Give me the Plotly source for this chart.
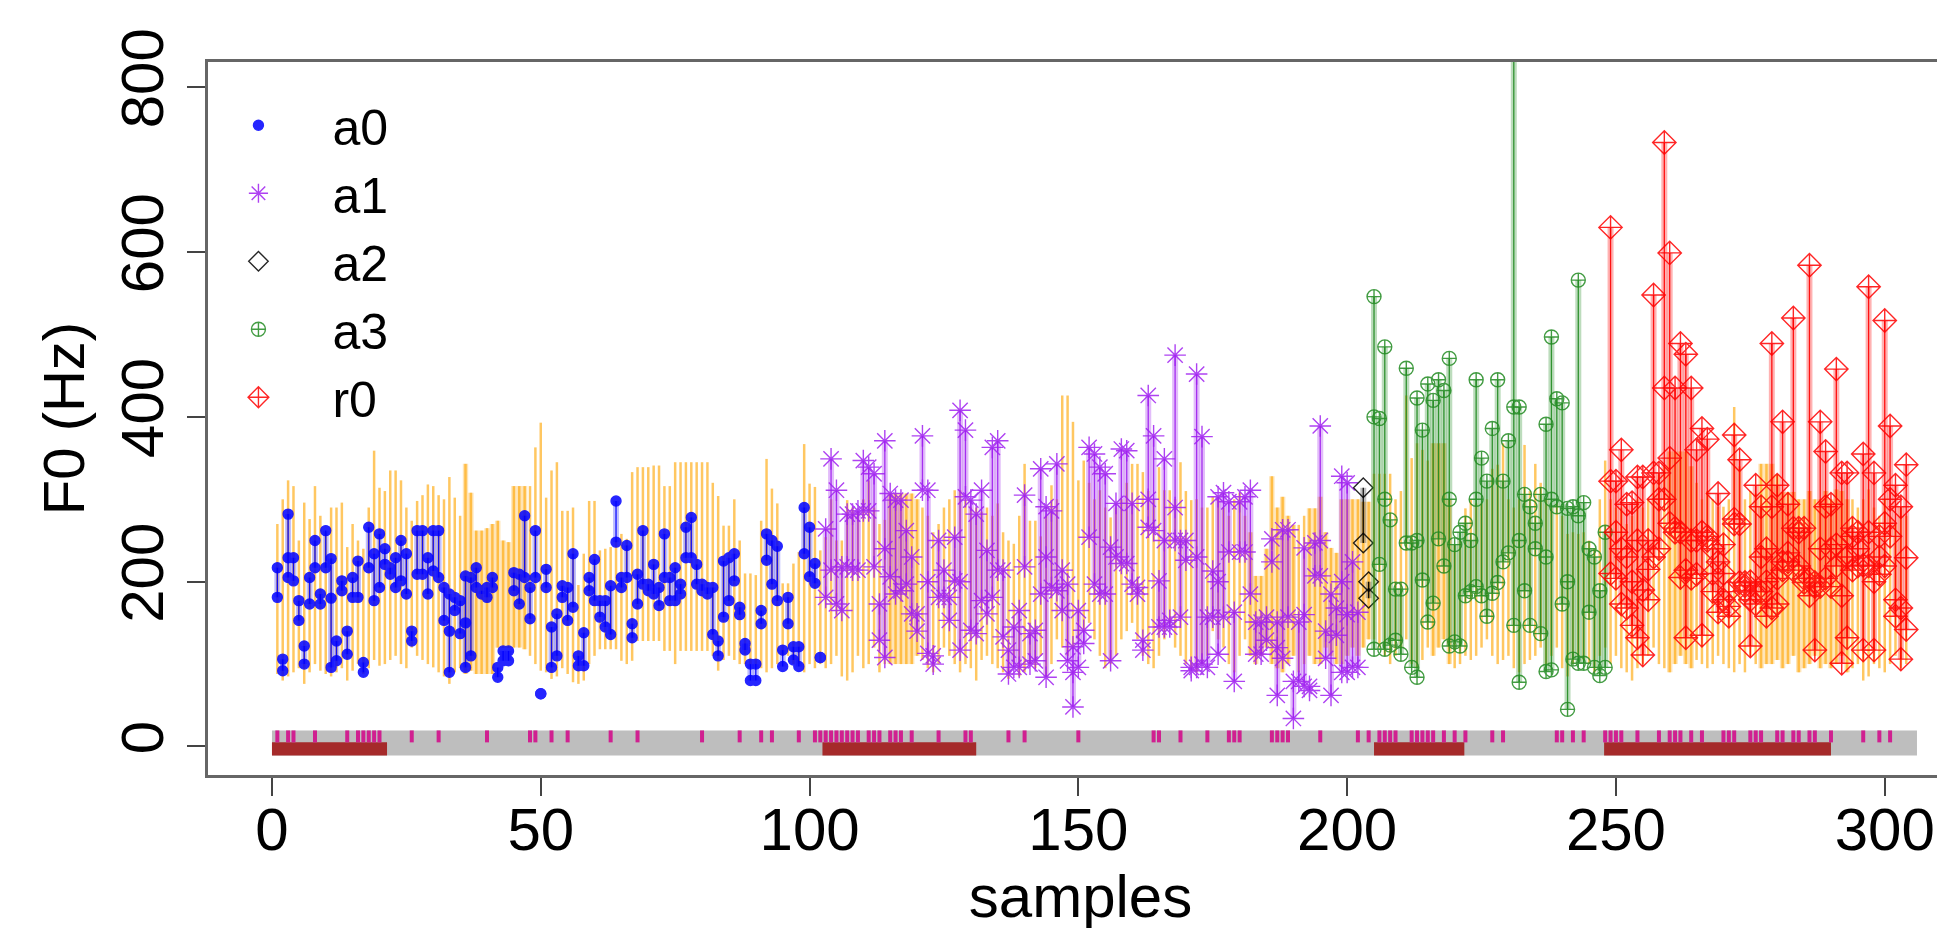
import plotly.graph_objects as go

# ---------------- data ----------------
class_names = ["a0", "a1", "a2", "a3", "r0"]
class_first = [1, 103, 203, 205, 249]
class_last = [102, 202, 204, 248, 304]

f0_top = [
    217,106,282,229,177,122,205,250,185,262,
    228,128,201,140,205,225,102,266,234,258,
    240,217,229,250,234,140,262,262,229,262,
    262,193,185,181,177,207,205,217,189,193,
    205,96,116,116,211,209,280,193,262,64,
    215,145,161,195,193,234,110,138,205,227,
    177,177,195,298,205,244,149,209,262,197,
    221,193,258,205,217,197,266,278,221,197,
    193,193,128,225,229,234,169,125,100,100,
    165,258,250,243,117,181,121,121,290,266,
    222,108,
    264,349,311,218,282,282,286,347,339,331,
    173,371,307,299,299,262,230,161,377,311,
    110,250,214,181,254,408,384,299,282,311,
    238,363,371,214,117,145,165,305,137,141,
    337,291,286,343,214,197,121,165,141,363,
    355,339,331,242,295,361,359,295,193,129,
    426,377,201,349,153,475,250,250,96,452,
    376,157,213,303,308,297,163,297,303,311,
    151,151,157,252,151,263,263,79,151,241,
    73,247,389,140,185,168,328,320,224,163,
    314,200,
    546,398,485,275,191,191,459,247,423,384,
    440,420,445,432,471,245,260,271,250,445,
    350,322,386,445,322,371,1150,412,306,291,
    271,306,391,497,422,417,289,291,566,296,
    240,230,189,260,
    630,322,360,294,296,327,327,250,548,332,
    733,599,435,489,476,435,360,386,373,240,
    307,245,188,378,348,199,200,317,291,240,
    489,317,394,294,520,260,265,584,199,394,
    358,294,458,332,332,265,260,355,558,332,
    255,517,389,317,291,342,
]

f0_bot = [
    181,92,205,201,153,100,173,217,173,217,
    96,104,189,112,181,181,90,217,177,193,
    221,209,193,201,185,128,209,209,185,213,
    205,153,90,165,137,96,110,193,185,181,
    193,84,104,104,189,173,205,155,205,64,
    193,96,110,181,153,169,98,98,189,177,
    157,145,136,248,193,205,132,173,197,189,
    185,171,205,177,177,185,229,229,197,189,
    185,136,110,157,177,201,160,117,80,80,
    149,226,197,177,97,149,105,97,234,206,
    198,108,
    181,214,173,165,218,214,214,286,286,218,
    129,108,206,185,189,197,161,140,311,113,
    100,181,181,153,201,117,303,141,137,177,
    161,181,214,133,88,96,96,218,100,104,
    185,84,193,189,165,104,48,96,125,254,
    197,185,185,104,230,222,222,197,185,117,
    266,262,145,145,145,250,157,226,92,96,
    100,96,157,112,157,236,79,236,236,185,
    112,112,129,224,62,107,157,34,79,73,
    68,207,207,107,62,135,90,90,96,96,
    247,180,
    118,221,118,123,129,112,247,96,84,202,
    151,174,252,219,122,127,122,183,188,194,
    183,158,186,199,224,235,147,78,189,147,
    240,137,91,93,291,173,45,106,101,101,
    163,96,86,96,
    322,204,173,168,147,132,111,178,332,240,
    435,271,260,205,132,204,250,135,250,188,
    163,178,158,270,270,189,122,173,188,158,
    291,173,214,224,265,219,204,204,117,194,
    291,240,245,101,132,214,219,117,219,117,
    209,219,255,158,106,142,
]

mid_samples = [3, 11, 33, 36,
               114, 122, 128, 144, 149, 163, 166, 168, 172, 176, 187, 192, 195, 199, 200,
               205, 207, 213, 219, 224, 231, 232, 237, 238, 241, 243,
               249, 250, 251, 252, 253, 254, 255, 256, 257, 258, 259, 260, 261, 262, 263,
               264, 265, 266, 267, 268, 269, 270, 271, 272, 273, 274, 275, 276, 277, 278,
               279, 280, 281, 282, 283, 284, 285, 286, 287, 288, 289, 290, 291, 292, 293,
               294, 295, 296, 297, 298, 299, 300, 301, 302, 303, 304]
mid_values = [229, 180, 140, 150,
              240, 200, 200, 230, 90, 300, 250, 290, 230, 200, 120, 160, 250, 200, 160,
              400, 300, 250, 300, 300, 412, 250, 230, 300, 200, 280,
              210, 260, 240, 230, 200, 250, 190, 215, 230, 300, 300, 350, 265, 260, 214,
              250, 209, 260, 255, 210, 224, 210, 170, 276, 199, 195, 178, 188, 230, 200,
              168, 204, 224, 235, 214, 265, 199, 183, 194, 240, 204, 194, 219, 183, 230,
              255, 240, 220, 260, 200, 230, 271, 300, 178, 168, 229]

orange_hi = [
    270,300,323,316,250,296,276,316,280,260,
    290,290,296,242,270,250,240,290,359,314,
    310,335,335,323,290,274,298,305,318,316,
    305,300,327,302,280,343,308,262,262,265,
    270,274,250,248,316,316,316,316,363,393,
    302,335,345,286,286,290,196,234,298,298,
    238,240,242,250,258,252,333,339,339,339,
    341,341,316,316,345,345,345,345,345,345,
    345,320,304,268,268,300,250,210,210,208,
    274,349,313,295,198,198,222,236,367,319,
    315,238,
    254,300,250,250,299,290,285,300,323,290,
    270,275,307,307,307,307,307,300,290,280,
    260,270,290,300,311,311,300,290,290,285,
    290,280,295,260,250,246,280,343,274,274,
    255,280,317,300,426,426,394,323,347,320,
    300,311,290,278,290,300,320,343,343,333,
    310,300,339,311,311,300,345,310,299,300,
    290,290,303,300,290,280,300,308,280,260,
    207,207,240,328,290,303,280,269,269,280,
    289,289,303,260,241,235,300,300,300,300,
    297,297,
    331,331,331,331,300,310,426,350,368,360,
    347,368,368,368,300,245,250,289,300,295,
    295,300,337,342,368,300,290,300,366,310,
    343,320,300,290,295,280,258,260,258,260,
    250,240,300,347,
    300,290,290,270,280,300,290,300,320,330,
    340,358,358,358,358,340,320,300,310,300,
    291,291,300,412,340,300,310,307,343,343,
    343,330,309,309,309,300,300,310,300,300,
    310,300,312,310,300,300,290,300,312,290,
    280,300,280,270,290,280,
]

orange_lo = [
    88,80,85,90,95,76,90,100,92,88,
    85,90,95,80,92,100,88,95,105,98,
    100,105,110,100,95,120,110,105,100,96,
    90,85,76,90,95,88,92,88,88,88,
    88,120,120,120,120,120,118,110,100,92,
    90,82,85,95,88,78,76,80,100,110,
    118,118,118,118,104,100,104,128,128,128,
    128,128,116,116,100,116,116,116,116,116,
    116,110,92,105,110,105,100,100,100,100,
    95,90,95,100,110,110,100,100,90,100,
    95,100,
    95,100,110,85,80,90,110,95,100,120,
    90,100,100,100,100,100,100,110,105,95,
    90,100,120,110,100,90,100,95,80,105,
    110,100,95,90,82,100,85,90,100,95,
    110,85,100,130,120,110,120,130,140,150,
    130,110,95,100,110,130,140,150,130,110,
    100,95,110,130,150,120,110,100,95,90,
    100,110,140,130,120,100,90,110,130,110,
    100,110,120,100,95,90,100,110,90,100,
    110,100,100,120,110,100,100,110,120,110,
    120,130,
    130,120,110,100,110,120,130,100,95,105,
    120,110,120,130,100,95,100,110,105,110,
    120,130,110,100,105,110,95,90,100,105,
    110,120,100,110,120,95,85,100,110,105,
    100,90,110,120,
    100,110,95,90,80,95,100,110,120,100,
    95,90,100,110,100,95,105,100,95,100,
    110,100,95,90,100,90,110,100,95,100,
    100,105,95,100,110,90,95,100,110,95,
    100,95,100,110,90,95,100,80,85,100,
    95,90,100,110,95,100,
]

shade_first = [36, 115, 182, 193, 216, 260, 277]
shade_last = [47, 120, 190, 204, 219, 264, 293]

tick_samples = [1,3,4,8,14,16,17,18,19,20,26,31,40,48,49,52,55,63,68,80,87,91,93,98,
                101,102,103,104,105,106,107,108,109,111,112,113,115,116,117,119,124,129,
                130,137,140,150,164,165,169,174,178,179,180,186,187,188,189,195,202,204,
                206,207,208,209,212,213,214,215,216,218,220,222,227,229,239,240,242,244,
                248,249,250,251,254,258,260,261,262,264,266,270,271,272,275,276,277,280,
                281,283,284,286,287,290,296,299,301]

segment_start = [0, 102.4, 205, 247.8]
segment_end = [21.4, 131, 221.8, 290]
strip_start, strip_end = 0, 306
strip_low, strip_split, strip_high = -11, 5, 19.5

x_ticks = [0, 50, 100, 150, 200, 250, 300]
y_ticks = [0, 200, 400, 600, 800]

# ---------------- styles ----------------
class_color = {"a0": "#0000FF", "a1": "#A020F0", "a2": "#000000", "a3": "#228B22", "r0": "#FF0000"}
class_band = {"a0": "rgba(0,0,255,0.25)", "a1": "rgba(160,32,240,0.30)", "a2": "rgba(0,0,0,0.25)",
              "a3": "rgba(34,139,34,0.30)", "r0": "rgba(255,0,0,0.30)"}
class_symbol = {"a0": "circle", "a1": "asterisk-open", "a2": "diamond-open",
                "a3": "circle-cross-open", "r0": "diamond-cross-open"}
class_size = {"a0": 10, "a1": 18, "a2": 15, "a3": 14, "r0": 18}

FONT = "Liberation Sans, Arial, Helvetica, sans-serif"

n = len(f0_top)
assert len(f0_bot) == n and len(orange_hi) == n and len(orange_lo) == n
assert len(mid_samples) == len(mid_values)
samples = list(range(1, n + 1))
mid_lookup = dict(zip(mid_samples, mid_values))

fig = go.Figure()

# bottom strip (grey band, brown segments)
fig.add_shape(type="rect", xref="x", yref="y", x0=strip_start, x1=strip_end,
              y0=strip_low, y1=strip_high, fillcolor="#BEBEBE", line_width=0, layer="below")
for a, b in zip(segment_start, segment_end):
    fig.add_shape(type="rect", xref="x", yref="y", x0=a, x1=b, y0=strip_low, y1=strip_split,
                  fillcolor="#A52A2A", line_width=0, layer="below")

# magenta ticks
tx, ty = [], []
for s in tick_samples:
    tx += [s, s, None]
    ty += [strip_split, strip_high, None]
fig.add_trace(go.Scatter(x=tx, y=ty, mode="lines", line=dict(color="#D02090", width=4),
                         showlegend=False, hoverinfo="skip"))

# shaded orange blocks
sx, sb, sh = [], [], []
for a, b in zip(shade_first, shade_last):
    for s in range(a, b + 1):
        sx.append(s)
        sb.append(orange_lo[s - 1])
        sh.append(orange_hi[s - 1] - orange_lo[s - 1])
fig.add_trace(go.Bar(x=sx, y=sh, base=sb, width=1.0,
                     marker=dict(color="rgba(255,185,60,0.38)", line_width=0),
                     showlegend=False, hoverinfo="skip"))

# orange range lines
ox, oy = [], []
for s in samples:
    ox += [s, s, None]
    oy += [orange_lo[s - 1], orange_hi[s - 1], None]
fig.add_trace(go.Scatter(x=ox, y=oy, mode="lines", line=dict(color="rgba(255,165,0,0.62)", width=2.5),
                         showlegend=False, hoverinfo="skip"))

# class segments and markers
for name, a, b in zip(class_names, class_first, class_last):
    lx, ly, mx, my = [], [], [], []
    for s in range(a, b + 1):
        vals = [f0_top[s - 1], f0_bot[s - 1]]
        if s in mid_lookup:
            vals.append(mid_lookup[s])
        lx += [s, s, None]
        ly += [min(vals), max(vals), None]
        for v in vals:
            mx.append(s)
            my.append(v)
    fig.add_trace(go.Scatter(x=lx, y=ly, mode="lines", line=dict(color=class_band[name], width=6),
                             showlegend=False, hoverinfo="skip"))
    fig.add_trace(go.Scatter(x=lx, y=ly, mode="lines", line=dict(color=class_color[name], width=1.3),
                             showlegend=False, hoverinfo="skip", opacity=0.9))
    fig.add_trace(go.Scatter(x=mx, y=my, mode="markers", name=name,
                             marker=dict(symbol=class_symbol[name], size=class_size[name],
                                         color=class_color[name],
                                         line=dict(color=class_color[name], width=1.4)),
                             opacity=0.85))

# the page body has an 8px default margin, so the figure is offset by 8px
fig.update_layout(
    width=1945, height=928,
    margin=dict(l=200, r=0, t=54, b=161, autoexpand=False),
    paper_bgcolor="white", plot_bgcolor="white",
    barmode="overlay",
    font=dict(family=FONT, color="black", size=58),
    showlegend=True,
    legend=dict(x=-0.0135, y=0.966, xanchor="left", yanchor="top", bgcolor="rgba(0,0,0,0)",
                font=dict(size=50, family=FONT), itemwidth=138, tracegroupgap=0,
                xref="paper", yref="paper"),
)
fig.update_xaxes(range=[-11.9, 312.7], tickvals=x_ticks, ticktext=[str(v) for v in x_ticks],
                 ticks="outside", ticklen=18, tickwidth=2, tickcolor="#444",
                 showline=True, linecolor="#666", linewidth=3, mirror=True,
                 showgrid=False, zeroline=False, automargin=False,
                 tickfont=dict(size=60, family=FONT), ticklabelstandoff=-18,
                 title=dict(text="samples", font=dict(size=60, family=FONT), standoff=0))
fig.update_yaxes(range=[-34.6, 830.7], tickvals=y_ticks, ticktext=[str(v) for v in y_ticks],
                 ticks="outside", ticklen=18, tickwidth=2, tickcolor="#444", tickangle=-90,
                 showline=True, linecolor="#666", linewidth=3,
                 showgrid=False, zeroline=False, automargin=False,
                 tickfont=dict(size=60, family=FONT),
                 title=dict(text="F0 (Hz)", font=dict(size=58, family=FONT), standoff=6))

fig.write_html("out.html")
